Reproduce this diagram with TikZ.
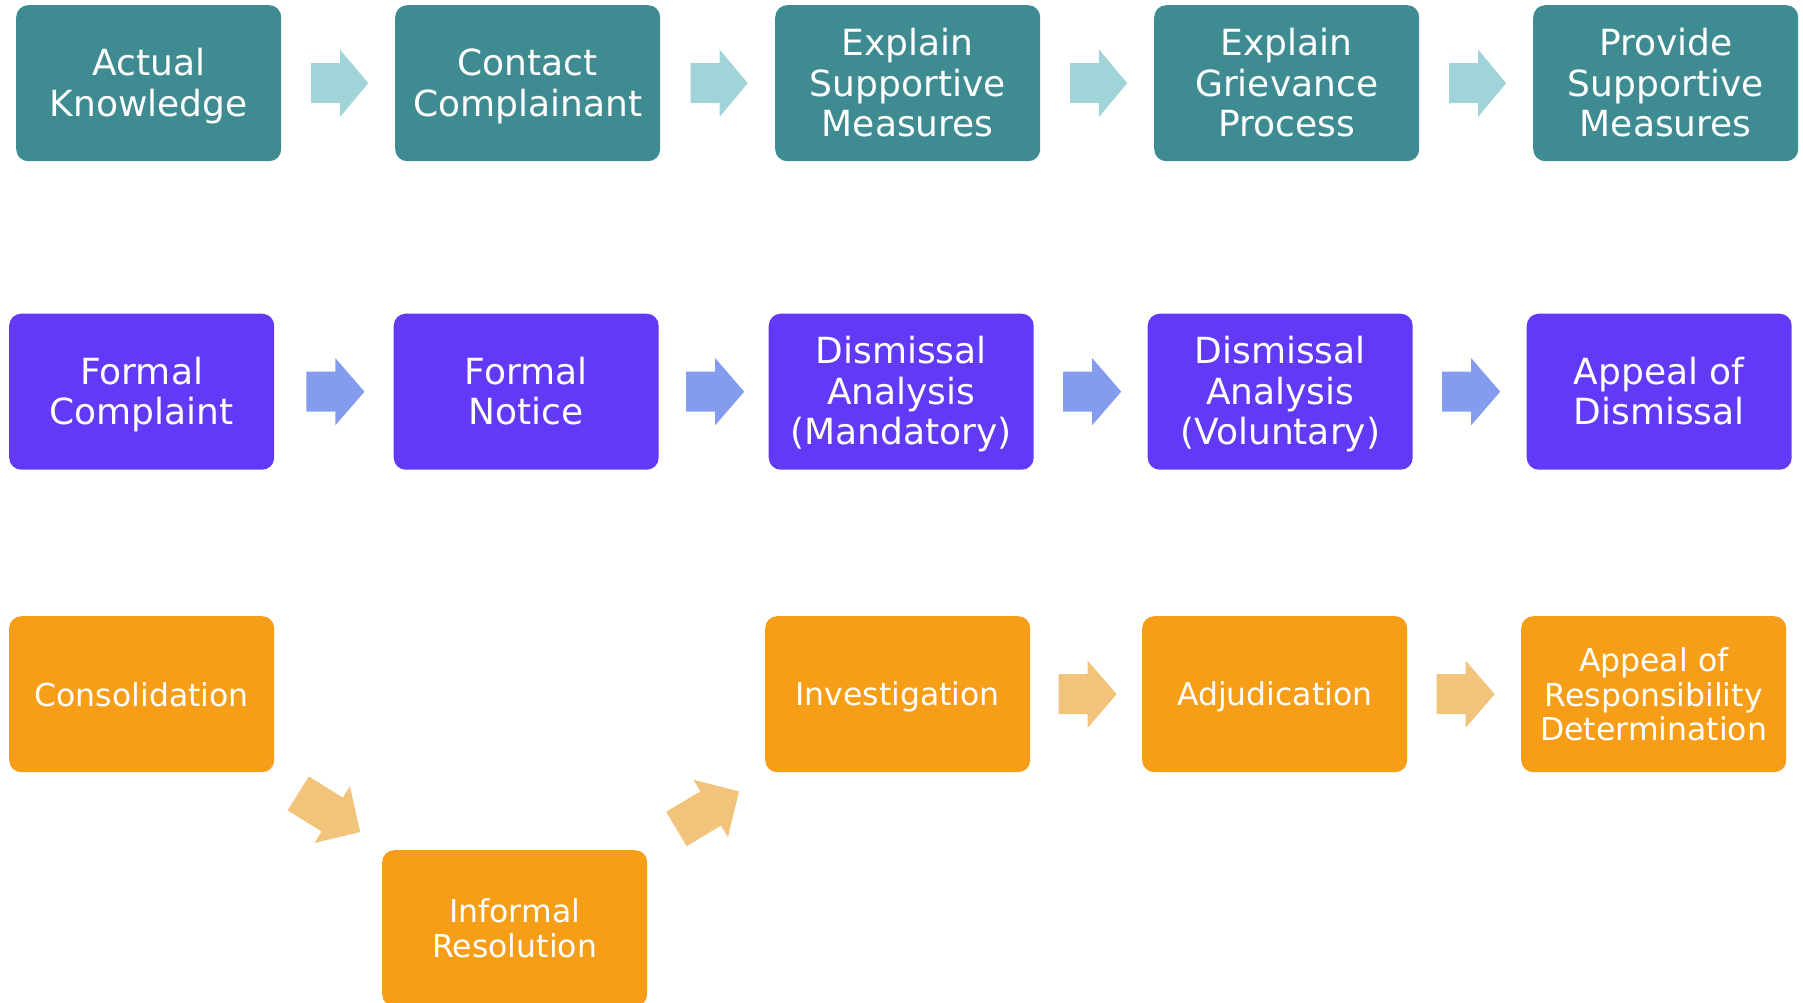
\documentclass[tikz,border=0pt]{standalone}
\usepackage{fontspec}
\setmainfont{DejaVu Sans}
\usetikzlibrary{calc}
\definecolor{tealc}{HTML}{3E8C92}
\definecolor{tealarrow}{HTML}{A0D4D8}
\definecolor{purplec}{HTML}{6139F6}
\definecolor{purplearrow}{HTML}{849CEE}
\definecolor{orangec}{HTML}{F79E18}
\definecolor{orangearrow}{HTML}{F2C47B}
\newcommand{\ts}{\rule[-7pt]{0pt}{40pt}}
\newcommand{\os}{\rule[-5.5pt]{0pt}{35pt}}
\newcommand{\tightlines}{\setlength{\lineskiplimit}{-100pt}}
\newcommand{\bigfont}{\fontsize{36}{40.5}\selectfont\tightlines}
\newcommand{\smallfont}{\fontsize{31.5}{34.5}\selectfont\tightlines}
\tikzset{
  box/.style={draw=none, rounded corners=12pt, minimum width=265pt, minimum height=156pt,
    inner sep=0pt, align=center, text=white, anchor=north west},
  tealbox/.style={box, fill=tealc, font=\bigfont},
  purplebox/.style={box, fill=purplec, font=\bigfont},
  orangebox/.style={box, fill=orangec, font=\smallfont},
}
\newcommand{\blkarrow}[5]{%
  \fill[#5, shift={#1}, rotate=#2] ({-#3/2},-20) -- ({-#3/2+#4},-20) -- ({-#3/2+#4},-33.5)
    -- ({#3/2},0) -- ({-#3/2+#4},33.5) -- ({-#3/2+#4},20) -- ({-#3/2},20) -- cycle;}
\begin{document}
\begin{tikzpicture}[x=1pt,y=-1pt]
\useasboundingbox (0,0) rectangle (1803,1003);
% Row 1
\node[tealbox] (t1) at (16,5) {\ts Actual\\\ts Knowledge};
\node[tealbox] (t2) at (395,5) {\ts Contact\\\ts Complainant};
\node[tealbox] (t3) at (775,5) {\ts Explain\\\ts Supportive\\\ts Measures};
\node[tealbox] (t4) at (1154,5) {\ts Explain\\\ts Grievance\\\ts Process};
\node[tealbox] (t5) at (1533,5) {\ts Provide\\\ts Supportive\\\ts Measures};
% Row 2
\node[purplebox] (p1) at (9,313.5) {\ts Formal\\\ts Complaint};
\node[purplebox] (p2) at (393.5,313.5) {\ts Formal\\\ts Notice};
\node[purplebox] (p3) at (768.5,313.5) {\ts Dismissal\\\ts Analysis\\\ts (Mandatory)};
\node[purplebox] (p4) at (1147.5,313.5) {\ts Dismissal\\\ts Analysis\\\ts (Voluntary)};
\node[purplebox] (p5) at (1526.5,313.5) {\ts Appeal of\\\ts Dismissal};
% Row 3
\node[orangebox] (o1) at (9,616) {\os Consolidation};
\node[orangebox] (o2) at (382,850) {\os Informal\\\os Resolution};
\node[orangebox] (o3) at (765,616) {\os Investigation};
\node[orangebox] (o4) at (1142,616) {\os Adjudication};
\node[orangebox] (o5) at (1521,616) {\os Appeal of\\\os Responsibility\\\os Determination};
% Arrows row 1
\blkarrow{($(t1.east)!0.5!(t2.west)+(1.5,0)$)}{0}{57}{29}{tealarrow}
\blkarrow{($(t2.east)!0.5!(t3.west)+(1.5,0)$)}{0}{57}{29}{tealarrow}
\blkarrow{($(t3.east)!0.5!(t4.west)+(1.5,0)$)}{0}{57}{29}{tealarrow}
\blkarrow{($(t4.east)!0.5!(t5.west)+(1.5,0)$)}{0}{57}{29}{tealarrow}
% Arrows row 2
\blkarrow{($(p1.east)!0.5!(p2.west)+(1.5,0)$)}{0}{58}{29}{purplearrow}
\blkarrow{($(p2.east)!0.5!(p3.west)+(1.5,0)$)}{0}{58}{29}{purplearrow}
\blkarrow{($(p3.east)!0.5!(p4.west)+(1.5,0)$)}{0}{58}{29}{purplearrow}
\blkarrow{($(p4.east)!0.5!(p5.west)+(1.5,0)$)}{0}{58}{29}{purplearrow}
% Arrows row 3
\blkarrow{($(o1.south east)!0.5!(o2.north west)+(1,1.5)$)}{-32}{73}{40}{orangearrow}
\blkarrow{($(o2.north east)!0.5!(o3.south west)+(1.5,-1)$)}{31}{73}{40}{orangearrow}
\blkarrow{($(o3.east)!0.5!(o4.west)+(1.5,0)$)}{0}{58}{29}{orangearrow}
\blkarrow{($(o4.east)!0.5!(o5.west)+(1.5,0)$)}{0}{58}{29}{orangearrow}
\end{tikzpicture}
\end{document}
